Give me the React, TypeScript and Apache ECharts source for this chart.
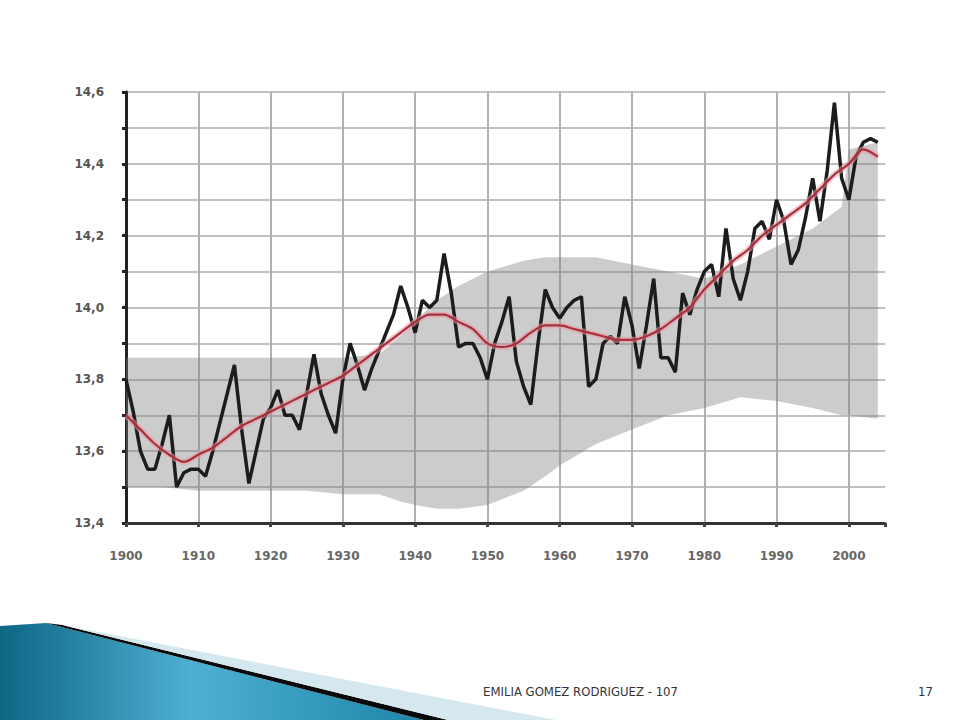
import React, { useEffect, useRef } from 'react';
import * as echarts from 'echarts';

const START_YEAR = 1900;
// Observed annual global mean temperature (°C), 1900-2004
const observed = [
  13.80, 13.71, 13.60, 13.55, 13.55, 13.62, 13.70, 13.50, 13.54, 13.55,
  13.55, 13.53, 13.60, 13.68, 13.76, 13.84, 13.66, 13.51, 13.60, 13.69,
  13.72, 13.77, 13.70, 13.70, 13.66, 13.76, 13.87, 13.76, 13.70, 13.65,
  13.80, 13.90, 13.84, 13.77, 13.83, 13.88, 13.93, 13.98, 14.06, 14.00,
  13.93, 14.02, 14.00, 14.02, 14.15, 14.04, 13.89, 13.90, 13.90, 13.86,
  13.80, 13.90, 13.96, 14.03, 13.85, 13.78, 13.73, 13.90, 14.05, 14.00,
  13.97, 14.00, 14.02, 14.03, 13.78, 13.80, 13.90, 13.92, 13.90, 14.03,
  13.95, 13.83, 13.95, 14.08, 13.86, 13.86, 13.82, 14.04, 13.98, 14.05,
  14.10, 14.12, 14.03, 14.22, 14.08, 14.02, 14.10, 14.22, 14.24, 14.19,
  14.30, 14.24, 14.12, 14.16, 14.25, 14.36, 14.24, 14.38, 14.57, 14.36,
  14.30, 14.42, 14.46, 14.47, 14.46,
];

// Smoothed trend
const trendYears = [
  1900, 1902, 1904, 1906, 1908, 1910, 1912, 1914, 1916, 1918, 1920, 1922, 1924, 1926,
  1928, 1930, 1932, 1934, 1936, 1938, 1940, 1942, 1944, 1946, 1948, 1950, 1952, 1954,
  1956, 1958, 1960, 1962, 1964, 1966, 1968, 1970, 1972, 1974, 1976, 1978, 1980, 1982,
  1984, 1986, 1988, 1990, 1992, 1994, 1996, 1998, 2000, 2002, 2004,
];
const trendValues = [
  13.70, 13.66, 13.62, 13.59, 13.57, 13.59, 13.61, 13.64, 13.67, 13.69, 13.71, 13.73, 13.75, 13.77,
  13.79, 13.81, 13.84, 13.87, 13.90, 13.93, 13.96, 13.98, 13.98, 13.96, 13.94, 13.90, 13.89, 13.90,
  13.93, 13.95, 13.95, 13.94, 13.93, 13.92, 13.91, 13.91, 13.92, 13.94, 13.97, 14.00, 14.05, 14.09,
  14.13, 14.16, 14.20, 14.23, 14.26, 14.29, 14.33, 14.37, 14.40, 14.44, 14.42,
];

// Grey range band
const bandYears = [
  1900, 1905, 1910, 1915, 1920, 1925, 1930, 1935, 1938, 1940, 1943, 1946, 1950,
  1955, 1958, 1960, 1965, 1970, 1975, 1980, 1985, 1990, 1995, 1999, 2000, 2004,
];
const bandLower = [
  13.50, 13.50, 13.49, 13.49, 13.49, 13.49, 13.48, 13.48, 13.46, 13.45, 13.44, 13.44, 13.45,
  13.49, 13.53, 13.56, 13.62, 13.66, 13.70, 13.72, 13.75, 13.74, 13.72, 13.70, 13.70, 13.69,
];
const bandUpper = [
  13.86, 13.86, 13.86, 13.86, 13.86, 13.86, 13.86, 13.87, 13.92, 13.96, 14.02, 14.06, 14.10,
  14.13, 14.14, 14.14, 14.14, 14.12, 14.10, 14.08, 14.12, 14.17, 14.22, 14.28, 14.44, 14.46,
];

const FOOTER = 'EMILIA GOMEZ RODRIGUEZ - 107';
const PAGE = '17';

export default function App() {
  const ref = useRef<HTMLDivElement>(null);
  useEffect(() => {
    if (!ref.current) return;
    const chart = echarts.init(ref.current, undefined, { renderer: 'svg' });
    const obsData = observed.map((v, i) => [START_YEAR + i, v]);
    const trendData = trendValues.map((v, i) => [trendYears[i], v]);
    const bandData = bandYears.map((y, i) => [y, bandLower[i], bandUpper[i]]);

    chart.setOption({
      animation: false,
      backgroundColor: '#ffffff',
      grid: { left: 126, right: 75, top: 92, bottom: 197, containLabel: false },
      xAxis: {
        type: 'value',
        min: 1900,
        max: 2005,
        interval: 10,
        axisLine: { show: true, lineStyle: { color: '#333', width: 3 } },
        axisTick: { show: true, length: 4, lineStyle: { color: '#444', width: 3 } },
        axisLabel: {
          margin: 27,
          fontSize: 12,
          fontWeight: 'bold',
          color: '#666',
          fontFamily: 'DejaVu Sans',
          formatter: (v: number) => (Math.round(v) % 10 === 0 ? String(Math.round(v)) : ''),
        },
        splitLine: { show: true, showMaxLine: false, lineStyle: { color: '#b0b0b0', width: 2 } },
      },
      yAxis: {
        type: 'value',
        min: 13.4,
        max: 14.6,
        interval: 0.1,
        axisLine: { show: true, lineStyle: { color: '#222', width: 3 } },
        axisTick: { show: true, length: 4, lineStyle: { color: '#222', width: 3 } },
        axisLabel: {
          margin: 22,
          fontSize: 12,
          fontWeight: 'bold',
          color: '#555',
          fontFamily: 'DejaVu Sans',
          formatter: (v: number) => {
            const r = Math.round(v * 10);
            return r % 2 === 0 ? (r / 10).toFixed(1).replace('.', ',') : '';
          },
        },
        splitLine: { show: true, lineStyle: { color: '#c0c0c0', width: 2 } },
      },
      series: [
        {
          name: 'band',
          type: 'custom',
          data: bandData,
          encode: { x: 0, y: [1, 2] },
          silent: true,
          z: 1,
          renderItem: (params: any, api: any) => {
            if (params.dataIndex !== 0) return { type: 'group', children: [] };
            const pts: number[][] = [];
            for (let i = 0; i < bandYears.length; i++) {
              pts.push(api.coord([bandYears[i], bandUpper[i]]));
            }
            for (let i = bandYears.length - 1; i >= 0; i--) {
              pts.push(api.coord([bandYears[i], bandLower[i]]));
            }
            return {
              type: 'polygon',
              shape: { points: pts },
              style: { fill: '#808080', opacity: 0.4 },
              silent: true,
            };
          },
        },
        {
          name: 'observed',
          type: 'line',
          data: obsData,
          symbol: 'none',
          lineStyle: { color: '#1c1c1c', width: 3.5 },
          z: 3,
        },
        {
          name: 'trendHalo',
          type: 'line',
          data: trendData,
          symbol: 'none',
          smooth: 0.3,
          lineStyle: { color: '#e89aa4', width: 6, opacity: 0.55 },
          z: 4,
        },
        {
          name: 'trend',
          type: 'line',
          data: trendData,
          symbol: 'none',
          smooth: 0.3,
          lineStyle: { color: '#a8303e', width: 2.2 },
          z: 5,
        },
      ],
      graphic: [
        {
          type: 'polygon',
          shape: { points: [[0, 626], [46, 623], [424, 720], [0, 720]] },
          style: {
            fill: {
              type: 'linear', x: 0, y: 0, x2: 1, y2: 0,
              colorStops: [
                { offset: 0, color: '#0d6684' },
                { offset: 0.45, color: '#4fb0d3' },
                { offset: 1, color: '#1d86a8' },
              ],
            },
          },
          silent: true,
        },
        {
          type: 'polygon',
          shape: { points: [[46, 623], [62, 625], [448, 720], [424, 720]] },
          style: { fill: '#0a0a0a' },
          silent: true,
        },
        {
          type: 'polygon',
          shape: { points: [[62, 625], [556, 720], [448, 720]] },
          style: { fill: '#d6e8ef' },
          silent: true,
        },
        {
          type: 'text',
          left: 483,
          top: 685,
          style: {
            text: FOOTER,
            fill: '#333',
            fontSize: 13,
            fontFamily: 'DejaVu Sans Condensed, Liberation Sans Narrow, sans-serif',
          },
        },
        {
          type: 'text',
          left: 918,
          top: 685,
          style: {
            text: PAGE,
            fill: '#333',
            fontSize: 13,
            fontFamily: 'DejaVu Sans Condensed, Liberation Sans Narrow, sans-serif',
          },
        },
      ],
    });
    return () => chart.dispose();
  }, []);
  return (
    <div
      ref={ref}
      style={{ position: 'fixed', left: 0, top: 0, width: 960, height: 720 }}
    />
  );
}
